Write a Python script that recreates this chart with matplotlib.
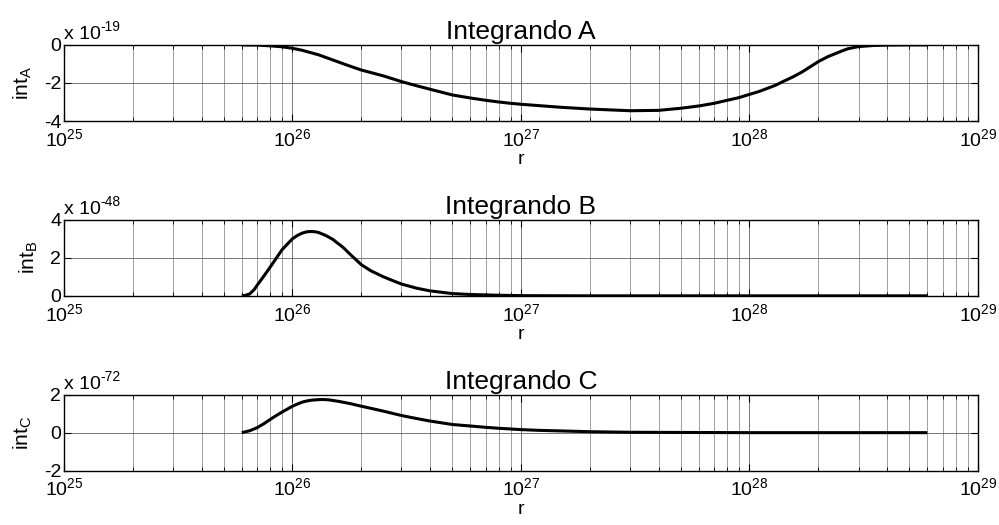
import numpy as np
import matplotlib
matplotlib.use("Agg")
import matplotlib.pyplot as plt
from matplotlib.ticker import LogLocator, NullFormatter

plt.rcParams["font.family"] = "Liberation Sans"
plt.rcParams["mathtext.fontset"] = "custom"
plt.rcParams["mathtext.rm"] = "Liberation Sans"
plt.rcParams["mathtext.it"] = "Liberation Sans"

# ------------------------------------------------------------
# Data (values in units of the exponent shown above each panel)
# ------------------------------------------------------------
r_A = [6e25, 7e25, 8e25, 9e25, 1e26, 1.1e26, 1.3e26, 1.5e26, 1.75e26, 2e26,
       2.5e26, 3e26, 3.5e26, 4e26, 5e26, 6e26, 7e26, 8e26, 9e26, 1e27,
       1.5e27, 2e27, 3e27, 4e27, 5e27, 6e27, 7e27, 8e27, 9e27, 1e28,
       1.1e28, 1.2e28, 1.3e28, 1.4e28, 1.55e28, 1.7e28, 1.85e28, 2e28, 2.2e28,
       2.5e28, 2.7e28, 3e28, 3.5e28, 4e28, 5e28, 6e28]
int_A = [0.0, -0.01, -0.05, -0.1, -0.18, -0.28, -0.52, -0.79, -1.08, -1.32,
         -1.63, -1.93, -2.15, -2.33, -2.63, -2.79, -2.91, -3.0, -3.07, -3.12,
         -3.28, -3.37, -3.46, -3.44, -3.33, -3.21, -3.07, -2.91, -2.77, -2.6,
         -2.45, -2.28, -2.12, -1.93, -1.68, -1.42, -1.14, -0.88, -0.62,
         -0.35, -0.2, -0.09, -0.03, -0.01, 0.0, 0.0]
exp_A = -19

r_B = [6e25, 6.2e25, 6.5e25, 6.8e25, 7e25, 7.5e25, 8e25, 9e25, 1e26, 1.05e26,
       1.1e26, 1.15e26, 1.2e26, 1.25e26, 1.3e26, 1.4e26, 1.5e26, 1.66e26,
       1.8e26, 2e26, 2.2e26, 2.5e26, 2.8e26, 3e26, 3.5e26, 4e26, 5e26, 6e26,
       8e26, 1e27, 2e27, 6e28]
int_B = [0.0, 0.02, 0.1, 0.33, 0.55, 1.04, 1.52, 2.42, 3.0, 3.17,
         3.29, 3.36, 3.38, 3.37, 3.33, 3.17, 2.97, 2.56,
         2.15, 1.64, 1.32, 1.0, 0.76, 0.62, 0.4, 0.26, 0.12, 0.07,
         0.03, 0.01, 0.0, 0.0]
exp_B = -48

r_C = [6e25, 6.5e25, 7e25, 7.5e25, 8e25, 8.5e25, 9e25, 1e26, 1.05e26, 1.1e26,
       1.15e26, 1.2e26, 1.25e26, 1.32e26, 1.38e26, 1.45e26, 1.6e26, 1.8e26,
       2e26, 2.2e26, 2.5e26, 3e26, 3.5e26, 4e26, 5e26, 6e26, 7e26, 8e26,
       1e27, 1.2e27, 1.5e27, 2e27, 3e27, 5e27, 1e28, 6e28]
int_C = [0.0, 0.1, 0.26, 0.47, 0.7, 0.9, 1.08, 1.39, 1.5, 1.6,
         1.66, 1.7, 1.72, 1.74, 1.74, 1.72, 1.64, 1.52,
         1.39, 1.28, 1.13, 0.9, 0.74, 0.61, 0.43, 0.35, 0.28, 0.23,
         0.16, 0.12, 0.09, 0.05, 0.02, 0.01, 0.0, 0.0]
exp_C = -72

panels = [
    ("Integrando A", r_A, int_A, exp_A, "A", (-4, 0), [-4, -2, 0]),
    ("Integrando B", r_B, int_B, exp_B, "B", (0, 4), [0, 2, 4]),
    ("Integrando C", r_C, int_C, exp_C, "C", (-2, 2), [-2, 0, 2]),
]

fig = plt.figure(figsize=(9.99, 5.25), dpi=100)
left, width, height = 0.064, 0.915, 0.145
bottoms = [0.7695, 0.4365, 0.1034]

for (title, r, vals, ex, sub, ylim, yticks), b in zip(panels, bottoms):
    ax = fig.add_axes([left, b, width, height])
    ax.plot(r, vals, color="black", lw=2.2, solid_capstyle="butt")
    ax.set_xscale("log")
    ax.set_xlim(1e25, 1e29)
    ax.set_ylim(*ylim)
    ax.set_yticks(yticks)
    ax.set_yticklabels([str(t) for t in yticks])
    ax.xaxis.set_major_locator(LogLocator(base=10, numticks=10))
    ax.xaxis.set_minor_locator(LogLocator(base=10, subs=np.arange(2, 10), numticks=50))
    ax.xaxis.set_minor_formatter(NullFormatter())

    ax.grid(True, which="major", color="#606060", lw=0.6)
    ax.grid(True, which="minor", axis="x", color="#909090", lw=0.6)
    ax.set_axisbelow(True)

    ax.tick_params(which="both", direction="in", top=True, right=True,
                   labelsize=14)
    ax.tick_params(axis="x", pad=5)
    ax.tick_params(axis="y", pad=2)
    ax.tick_params(which="major", length=5, width=0.8)
    ax.tick_params(which="minor", length=3, width=0.6)
    for s in ax.spines.values():
        s.set_linewidth(1.0)

    ax.set_title(title, fontsize=19, pad=4)
    ax.set_xlabel("r", fontsize=14, labelpad=1)
    ax.set_ylabel(r"$\mathrm{int}_{\mathrm{%s}}$" % sub, fontsize=15, labelpad=7)
    ax.text(0.0, 1.02, "x 10", transform=ax.transAxes,
            fontsize=14, ha="left", va="bottom")
    ax.text(0.04, 1.14, "%d" % ex, transform=ax.transAxes,
            fontsize=10, ha="left", va="bottom")

fig.savefig("out.png", dpi=100)
